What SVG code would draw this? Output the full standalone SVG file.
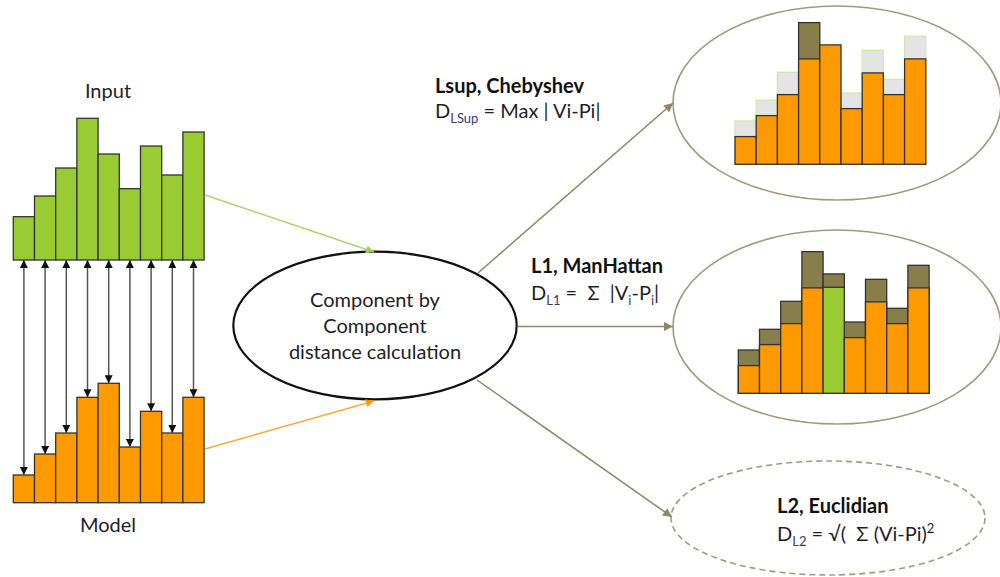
<svg xmlns="http://www.w3.org/2000/svg" width="1000" height="577" viewBox="0 0 1000 577">
<style>
text{font-family:Lato,"Liberation Sans",sans-serif;fill:#1e1e28;}
.lbl{font-size:20px;}
.ttl{font-size:20px;font-weight:bold;fill:#111;}
.frm{font-size:20px;white-space:pre;}
.sub{font-size:13px;fill:#3e3870;}
.g{fill:#99CC33;stroke:#333;stroke-width:1.3;}
.o{fill:#FF9900;stroke:#333;stroke-width:1.3;}
.ol{fill:#877E4C;stroke:#333;stroke-width:1.3;}
.gr{fill:#E4E4E4;stroke:#CDEBA8;stroke-width:1.3;}
.dbl{stroke:#555;stroke-width:1.5;fill:none;}
.kh{stroke:#8E8762;stroke-width:1.5;fill:none;}
.ell{fill:none;stroke:#A19A7A;stroke-width:1.6;}
</style>
<defs>
<marker id="ab" viewBox="0 0 10 10" refX="10" refY="5" markerWidth="9" markerHeight="8" markerUnits="userSpaceOnUse" orient="auto-start-reverse"><path d="M0,0L10,5L0,10z" fill="#111"/></marker>
<marker id="ak" viewBox="0 0 10 10" refX="10" refY="5" markerWidth="10" markerHeight="9" markerUnits="userSpaceOnUse" orient="auto"><path d="M0,0L10,5L0,10z" fill="#8E8762"/></marker>
<marker id="ag" viewBox="0 0 10 10" refX="10" refY="5" markerWidth="9" markerHeight="8" markerUnits="userSpaceOnUse" orient="auto"><path d="M0,0L10,5L0,10z" fill="#9BCF55"/></marker>
<marker id="ao" viewBox="0 0 10 10" refX="10" refY="5" markerWidth="9" markerHeight="8" markerUnits="userSpaceOnUse" orient="auto"><path d="M0,0L10,5L0,10z" fill="#FF9900"/></marker>
</defs>

<g id="input">
<text class="lbl" x="108" y="98" text-anchor="middle">Input</text>
<rect class="g" x="13.3" y="216.7" width="21.2" height="43.3"/>
<rect class="g" x="34.5" y="196" width="21.2" height="64"/>
<rect class="g" x="55.7" y="168" width="21.2" height="92"/>
<rect class="g" x="76.9" y="118.3" width="21.2" height="141.7"/>
<rect class="g" x="98.1" y="154" width="21.2" height="106"/>
<rect class="g" x="119.3" y="188.7" width="21.2" height="71.3"/>
<rect class="g" x="140.5" y="146" width="21.2" height="114"/>
<rect class="g" x="161.7" y="175" width="21.2" height="85"/>
<rect class="g" x="182.9" y="132" width="21.2" height="128"/>
</g>

<g id="model">
<rect class="o" x="13.3" y="475" width="21.2" height="27.7"/>
<rect class="o" x="34.5" y="454" width="21.2" height="48.7"/>
<rect class="o" x="55.7" y="433" width="21.2" height="69.7"/>
<rect class="o" x="76.9" y="397.3" width="21.2" height="105.4"/>
<rect class="o" x="98.1" y="383.3" width="21.2" height="119.4"/>
<rect class="o" x="119.3" y="447" width="21.2" height="55.7"/>
<rect class="o" x="140.5" y="411.3" width="21.2" height="91.4"/>
<rect class="o" x="161.7" y="433" width="21.2" height="69.7"/>
<rect class="o" x="182.9" y="397.3" width="21.2" height="105.4"/>
<text class="lbl" x="108" y="532" text-anchor="middle">Model</text>
</g>

<g id="center">
<ellipse cx="375" cy="325.5" rx="141.7" ry="73.8" fill="#fff" stroke="#111" stroke-width="2.2"/>
<text class="lbl" text-anchor="middle"><tspan x="375" y="307">Component by</tspan><tspan x="375" y="333">Component</tspan><tspan x="375" y="359">distance calculation</tspan></text>
</g>

<g id="lsup">
<ellipse class="ell" cx="837" cy="103" rx="164" ry="97"/>
<rect class="gr" x="735" y="121" width="21.2" height="43.3"/>
<rect class="gr" x="756.2" y="100.3" width="21.2" height="64"/>
<rect class="gr" x="777.4" y="72.3" width="21.2" height="92"/>
<rect class="ol" x="798.6" y="22.6" width="21.2" height="141.7"/>
<rect class="gr" x="841" y="93" width="21.2" height="71.3"/>
<rect class="gr" x="862.2" y="50.3" width="21.2" height="114"/>
<rect class="gr" x="883.4" y="79.3" width="21.2" height="85"/>
<rect class="gr" x="904.6" y="36.3" width="21.2" height="128"/>
<rect class="o" x="735" y="136.6" width="21.2" height="27.7"/>
<rect class="o" x="756.2" y="115.6" width="21.2" height="48.7"/>
<rect class="o" x="777.4" y="94.6" width="21.2" height="69.7"/>
<rect class="o" x="798.6" y="58.9" width="21.2" height="105.4"/>
<rect class="o" x="819.8" y="44.9" width="21.2" height="119.4"/>
<rect class="o" x="841" y="108.6" width="21.2" height="55.7"/>
<rect class="o" x="862.2" y="72.9" width="21.2" height="91.4"/>
<rect class="o" x="883.4" y="94.6" width="21.2" height="69.7"/>
<rect class="o" x="904.6" y="58.9" width="21.2" height="105.4"/>
<text class="ttl" x="435" y="93">Lsup, Chebyshev</text>
<text class="frm" x="435" y="118">D<tspan class="sub" dy="5">LSup</tspan><tspan dy="-5"> = Max | Vi-Pi|</tspan></text>
</g>

<g id="l1">
<ellipse class="ell" cx="837" cy="327" rx="164" ry="97"/>
<rect class="ol" x="738.3" y="350" width="21.2" height="43.3"/>
<rect class="ol" x="759.5" y="329.3" width="21.2" height="64"/>
<rect class="ol" x="780.7" y="301.3" width="21.2" height="92"/>
<rect class="ol" x="801.9" y="251.6" width="21.2" height="141.7"/>
<rect class="ol" x="823.1" y="273.9" width="21.2" height="119.4"/>
<rect class="ol" x="844.3" y="322" width="21.2" height="71.3"/>
<rect class="ol" x="865.5" y="279.3" width="21.2" height="114"/>
<rect class="ol" x="886.7" y="308.3" width="21.2" height="85"/>
<rect class="ol" x="907.9" y="265.3" width="21.2" height="128"/>
<rect class="o" x="738.3" y="365.6" width="21.2" height="27.7"/>
<rect class="o" x="759.5" y="344.6" width="21.2" height="48.7"/>
<rect class="o" x="780.7" y="323.6" width="21.2" height="69.7"/>
<rect class="o" x="801.9" y="287.9" width="21.2" height="105.4"/>
<rect class="g" x="823.1" y="287.3" width="21.2" height="106"/>
<rect class="o" x="844.3" y="337.6" width="21.2" height="55.7"/>
<rect class="o" x="865.5" y="301.9" width="21.2" height="91.4"/>
<rect class="o" x="886.7" y="323.6" width="21.2" height="69.7"/>
<rect class="o" x="907.9" y="287.9" width="21.2" height="105.4"/>
<text class="ttl" x="531" y="273">L1, ManHattan</text>
<text class="frm" x="531" y="300">D<tspan class="sub" dy="5">L1</tspan><tspan dy="-5"> =  Σ  |V</tspan><tspan class="sub" dy="5">i</tspan><tspan dy="-5">-P</tspan><tspan class="sub" dy="5">i</tspan><tspan dy="-5">|</tspan></text>
</g>

<g id="l2">
<ellipse class="ell" cx="828" cy="518" rx="157" ry="57" stroke-dasharray="6 4"/>
<text class="ttl" x="777" y="513">L2, Euclidian</text>
<text class="frm" x="777" y="541">D<tspan class="sub" dy="5">L2</tspan><tspan dy="-5"> = √(  Σ (Vi-Pi)</tspan><tspan style="font-size:13px" dy="-8">2</tspan></text>
</g>

<g id="connectors">
<line class="dbl" x1="23.9" y1="260" x2="23.9" y2="475" marker-start="url(#ab)" marker-end="url(#ab)"/>
<line class="dbl" x1="45.1" y1="260" x2="45.1" y2="454" marker-start="url(#ab)" marker-end="url(#ab)"/>
<line class="dbl" x1="66.3" y1="260" x2="66.3" y2="433" marker-start="url(#ab)" marker-end="url(#ab)"/>
<line class="dbl" x1="87.5" y1="260" x2="87.5" y2="397.3" marker-start="url(#ab)" marker-end="url(#ab)"/>
<line class="dbl" x1="108.7" y1="260" x2="108.7" y2="383.3" marker-start="url(#ab)" marker-end="url(#ab)"/>
<line class="dbl" x1="129.9" y1="260" x2="129.9" y2="447" marker-start="url(#ab)" marker-end="url(#ab)"/>
<line class="dbl" x1="151.1" y1="260" x2="151.1" y2="411.3" marker-start="url(#ab)" marker-end="url(#ab)"/>
<line class="dbl" x1="172.3" y1="260" x2="172.3" y2="433" marker-start="url(#ab)" marker-end="url(#ab)"/>
<line class="dbl" x1="193.5" y1="260" x2="193.5" y2="397.3" marker-start="url(#ab)" marker-end="url(#ab)"/>
<line x1="205" y1="195" x2="374" y2="252" stroke="#A8D56E" stroke-width="1.4" marker-end="url(#ag)"/>
<line x1="205" y1="449" x2="374" y2="401" stroke="#FFA733" stroke-width="1.4" marker-end="url(#ao)"/>
<line class="kh" x1="478" y1="273" x2="673" y2="103" marker-end="url(#ak)"/>
<line class="kh" x1="517" y1="326.5" x2="673" y2="326.5" marker-end="url(#ak)"/>
<line class="kh" x1="477" y1="380" x2="672" y2="517" marker-end="url(#ak)"/>
</g>
</svg>
